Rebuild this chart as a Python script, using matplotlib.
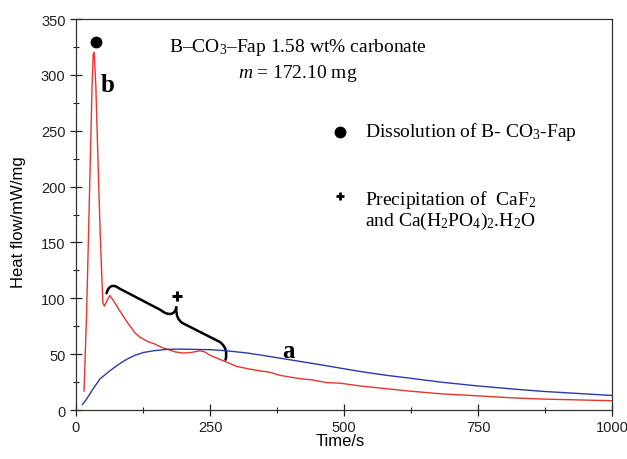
import matplotlib
matplotlib.use("Agg")
import matplotlib.pyplot as plt
from matplotlib.path import Path
from matplotlib.patches import PathPatch
from matplotlib.ticker import MultipleLocator

plt.rcParams["mathtext.fontset"] = "custom"
plt.rcParams["mathtext.rm"] = "Liberation Serif"
plt.rcParams["mathtext.it"] = "Liberation Serif:italic"
plt.rcParams["mathtext.bf"] = "Liberation Serif:bold"

# Curve b (red)
t_b = [15, 20, 25, 30, 32, 34, 37, 40, 45, 50, 53, 57, 63, 70, 80, 95, 110, 120, 135, 145,
       160, 170, 185, 200, 215, 231, 240, 250, 265, 280, 300, 320, 343, 360, 381, 405,
       418, 440, 468, 493, 530, 560, 621, 680, 746, 810, 870, 940, 1000]
hf_b = [17, 90, 190, 290, 318, 320, 290, 240, 160, 96, 93, 97, 102.5, 98, 90, 79, 69, 65, 61,
        59.5, 56, 54.5, 52, 51, 51.5, 53, 52, 49, 46, 43, 39, 37, 35, 34, 31, 29,
        28, 27, 24.5, 24, 21.5, 20, 17, 14.5, 12.8, 11, 9.8, 9, 8.3]

# Curve a (blue)
t_a = [12, 20, 32, 45, 63, 80, 95, 110, 126, 144, 170, 194, 250, 281, 320, 360, 405, 450,
       493, 530, 580, 621, 680, 746, 810, 870, 940, 1000]
hf_a = [5, 10, 19, 28, 35, 41, 45.5, 49, 51.5, 53, 54.3, 54.5, 54, 53, 51, 48, 44.5, 41,
        37.5, 34.5, 31, 28.6, 25, 21.7, 19, 16.7, 14.7, 13]

x_ticks = [0, 250, 500, 750, 1000]
y_ticks = [0, 50, 100, 150, 200, 250, 300, 350]

serif = ["Liberation Serif", "DejaVu Serif"]
sans = ["Liberation Sans", "DejaVu Sans"]

fig = plt.figure(figsize=(6.27, 4.6), dpi=100)
ax = fig.add_axes([0.1212, 0.1065, 0.855, 0.85])

ax.plot(t_b, hf_b, color="#e8352c", lw=1.0)
ax.plot(t_a, hf_a, color="#2b3aa6", lw=1.0)

ax.set_xlim(0, 1000)
ax.set_ylim(0, 350)
ax.set_xticks(x_ticks)
ax.set_yticks(y_ticks)
ax.xaxis.set_minor_locator(MultipleLocator(125))
ax.yaxis.set_minor_locator(MultipleLocator(25))
ax.tick_params(which="major", direction="inout", length=8, width=0.9, labelsize=10.5,
               colors="#222222")
ax.tick_params(which="minor", direction="inout", length=5, width=0.8, colors="#222222")
for lab in ax.get_xticklabels() + ax.get_yticklabels():
    lab.set_fontfamily(sans)
for s in ax.spines.values():
    s.set_linewidth(0.9)
    s.set_color("#333333")

ax.set_xlabel("Time/s", fontsize=12, family=sans)
ax.set_ylabel("Heat flow/mW/mg", fontsize=12, family=sans)
ax.xaxis.set_label_coords(0.4925, -0.06)
ax.yaxis.set_label_coords(-0.094, 0.483)

# markers
ax.plot([36.7], [329.7], "o", color="black", ms=7.5)
ax.plot([189], [102], marker="+", color="black", ms=7, mew=2.2)
ax.plot([492.5], [249], "o", color="black", ms=7.5)
ax.plot([492.5], [192], marker="+", color="black", ms=6, mew=2.0)

# labels
ax.text(58.4, 291, "b", fontsize=18, fontweight="bold", family=serif, ha="center", va="center")
ax.text(396, 53.6, "a", fontsize=18, fontweight="bold", family=serif, ha="center", va="center")
ax.text(414, 325, r"B–CO$_3$–Fap 1.58 wt% carbonate", fontsize=14, family=serif,
        ha="center", va="center")
ax.text(414, 302, r"$m$ = 172.10 mg", fontsize=14, family=serif, ha="center", va="center")
ax.text(539, 250, r"Dissolution of B- CO$_3$-Fap", fontsize=14, family=serif, va="center")
ax.text(539, 189, r"Precipitation of  CaF$_2$", fontsize=14, family=serif, va="center")
ax.text(539, 170, r"and Ca(H$_2$PO$_4$)$_2$.H$_2$O", fontsize=14, family=serif, va="center")

# brace
left_arm = [(57, 104.5), (61, 112), (71, 112.5), (80, 109), (158, 89.5),
            (172, 84), (185, 85), (187, 92)]
left_codes = [Path.MOVETO, Path.CURVE4, Path.CURVE4, Path.CURVE4, Path.LINETO,
              Path.CURVE4, Path.CURVE4, Path.CURVE4]
right_arm = [(187, 92), (187, 84), (190, 81), (198, 78), (268, 61),
             (280, 57), (282, 51), (279, 45)]
right_codes = [Path.MOVETO, Path.CURVE4, Path.CURVE4, Path.CURVE4, Path.LINETO,
               Path.CURVE4, Path.CURVE4, Path.CURVE4]
for pts, cds in [(left_arm, left_codes), (right_arm, right_codes)]:
    ax.add_patch(PathPatch(Path(pts, cds), fill=False, lw=1.8, edgecolor="black",
                           capstyle="round", joinstyle="round"))

fig.savefig("out.png", dpi=100)
